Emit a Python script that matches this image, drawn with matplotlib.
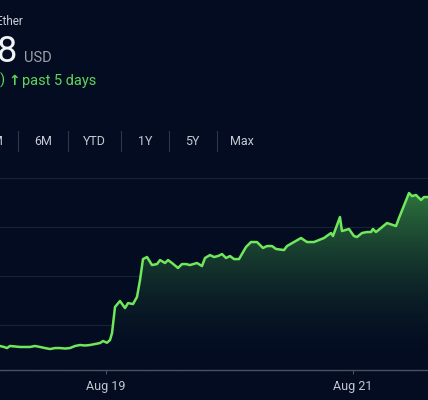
"""Ether price over the past 5 days, dark finance-card style."""

import numpy as np
import matplotlib
matplotlib.use("Agg")
import matplotlib.pyplot as plt

# hours since Aug 18 00:00 and price (USD)
hours = [3.40, 4.18, 4.76, 5.34, 6.32, 7.29, 8.26, 9.23, 10.20, 11.17,
         12.15, 13.12, 14.09, 15.06, 16.03, 17.00, 17.98, 18.95, 19.92, 20.89,
         21.86, 22.83, 23.42, 24.19, 24.78, 25.17, 25.75, 26.72, 27.69, 28.28,
         29.25, 30.02, 30.61, 31.19, 31.97, 32.94, 33.91, 34.50, 35.47, 36.05,
         36.83, 37.99, 38.77, 39.55, 40.32, 41.68, 42.66, 43.24, 44.21, 44.99,
         45.77, 46.55, 47.32, 48.10, 48.88, 49.85, 51.21, 52.18, 53.34, 54.51,
         55.29, 56.26, 57.04, 58.59, 59.18, 60.54, 61.90, 63.06, 64.42, 66.37,
         67.73, 68.11, 69.47, 69.86, 71.22, 72.19, 72.78, 73.75, 74.72, 75.50,
         75.88, 76.47, 77.44, 78.61, 80.36, 80.94, 82.89, 83.47, 84.25, 85.22,
         85.80, 86.58]
prices = [2528.6, 2527.6, 2526.5, 2528.6, 2528.1, 2527.6, 2527.6, 2527.6, 2528.6, 2527.6,
          2526.5, 2525.5, 2526.5, 2526.5, 2526.0, 2526.5, 2528.6, 2529.6, 2529.1, 2529.6,
          2530.6, 2531.6, 2533.7, 2531.9, 2534.7, 2541.8, 2568.4, 2574.5, 2567.3, 2572.4,
          2571.4, 2578.6, 2595.9, 2617.3, 2619.4, 2611.2, 2612.2, 2616.3, 2613.3, 2616.3,
          2613.3, 2608.2, 2612.2, 2612.2, 2611.2, 2613.3, 2610.2, 2618.4, 2621.4, 2619.4,
          2620.4, 2622.4, 2618.4, 2620.4, 2617.3, 2617.3, 2629.6, 2634.7, 2634.7, 2628.6,
          2630.6, 2630.6, 2627.6, 2626.5, 2630.6, 2634.7, 2638.8, 2634.7, 2634.7, 2638.8,
          2643.9, 2640.8, 2660.2, 2645.9, 2648.0, 2640.8, 2639.8, 2643.9, 2644.9, 2644.9,
          2648.0, 2644.9, 2649.0, 2654.1, 2651.0, 2659.2, 2684.7, 2681.6, 2682.7, 2677.6,
          2680.6, 2680.6]

tick_hours = [24, 72]
tick_labels = ["Aug 19", "Aug 21"]
grid_levels = [2550, 2600, 2650, 2700]
ranges = ["1M", "6M", "YTD", "1Y", "5Y", "Max"]

BG = "#040c22"
LINE = "#6fe85b"
GREEN_TXT = "#5fd45a"
W, H = 428, 400

fig = plt.figure(figsize=(W / 100, H / 100), dpi=100, facecolor=BG)
plt.rcParams["font.family"] = ["Roboto", "DejaVu Sans"]


def fx(x):
    return x / W


def fy(y):
    return 1 - y / H


# header text
fig.text(fx(-4), fy(25), "Ether", color="#c9ccd2", fontsize=8.5)
fig.text(fx(-3), fy(62), "8", color="#f2f3f5", fontsize=26)
fig.text(fx(24), fy(62), "USD", color="#9ea3ab", fontsize=10.5)
fig.text(fx(0), fy(85), ")", color=GREEN_TXT, fontsize=10.5)
fig.text(fx(8), fy(85), "\u2191", color=GREEN_TXT, fontsize=10,
         fontweight="bold", family=["DejaVu Sans"])
fig.text(fx(22), fy(85), "past 5 days", color=GREEN_TXT, fontsize=10.5)

# range selector
centers = [-6, 43, 94, 145, 192, 242]
for c, lab in zip(centers, ranges):
    fig.text(fx(c), fy(145), lab, color="#c5cad3", fontsize=9, ha="center")
for sx in [18, 68, 121, 169, 217]:
    fig.add_artist(plt.Line2D([fx(sx), fx(sx)], [fy(131), fy(151)],
                              color="#2e364a", lw=0.8))

# chart area
ax = fig.add_axes([0, fy(370), 1, fy(170) - fy(370)])
ax.set_facecolor(BG)
ymin, ymax = 2504.1, 2708.2
ax.set_xlim(3.40, 86.58)
ax.set_ylim(ymin, ymax)

for g in grid_levels:
    ax.axhline(g, color="#1a2236", lw=0.8, zorder=1)

# vertical gradient under the line
g_lo, g_hi = 2514.0, 2682.0
levels = np.linspace(ymin, ymax, 300)
frac = np.clip((levels - g_lo) / (g_hi - g_lo), 0, 1)
bg_rgb = np.array([4, 12, 34]) / 255
top_rgb = np.array([44, 112, 60]) / 255
cols = bg_rgb[None, :] + (top_rgb - bg_rgb)[None, :] * frac[:, None] ** 1.7
img = cols[:, None, :]
poly = ax.fill_between(hours, prices, ymin, color="none", lw=0)
im = ax.imshow(img, extent=[3.40, 86.58, ymin, ymax], origin="lower",
               aspect="auto", zorder=2)
im.set_clip_path(poly.get_paths()[0], transform=ax.transData)

ax.plot(hours, prices, color=LINE, lw=1.8, zorder=3, solid_joinstyle="round")

for s in ["top", "left", "right"]:
    ax.spines[s].set_visible(False)
ax.spines["bottom"].set_color("#4a5060")
ax.spines["bottom"].set_linewidth(1.0)
ax.set_yticks([])
ax.set_xticks(tick_hours)
ax.set_xticklabels(tick_labels)
ax.tick_params(axis="x", colors="#4a5060", length=3, width=0.8, pad=4,
               labelcolor="#c3c7ce", labelsize=9)

fig.savefig("out.png", dpi=100, facecolor=BG)
